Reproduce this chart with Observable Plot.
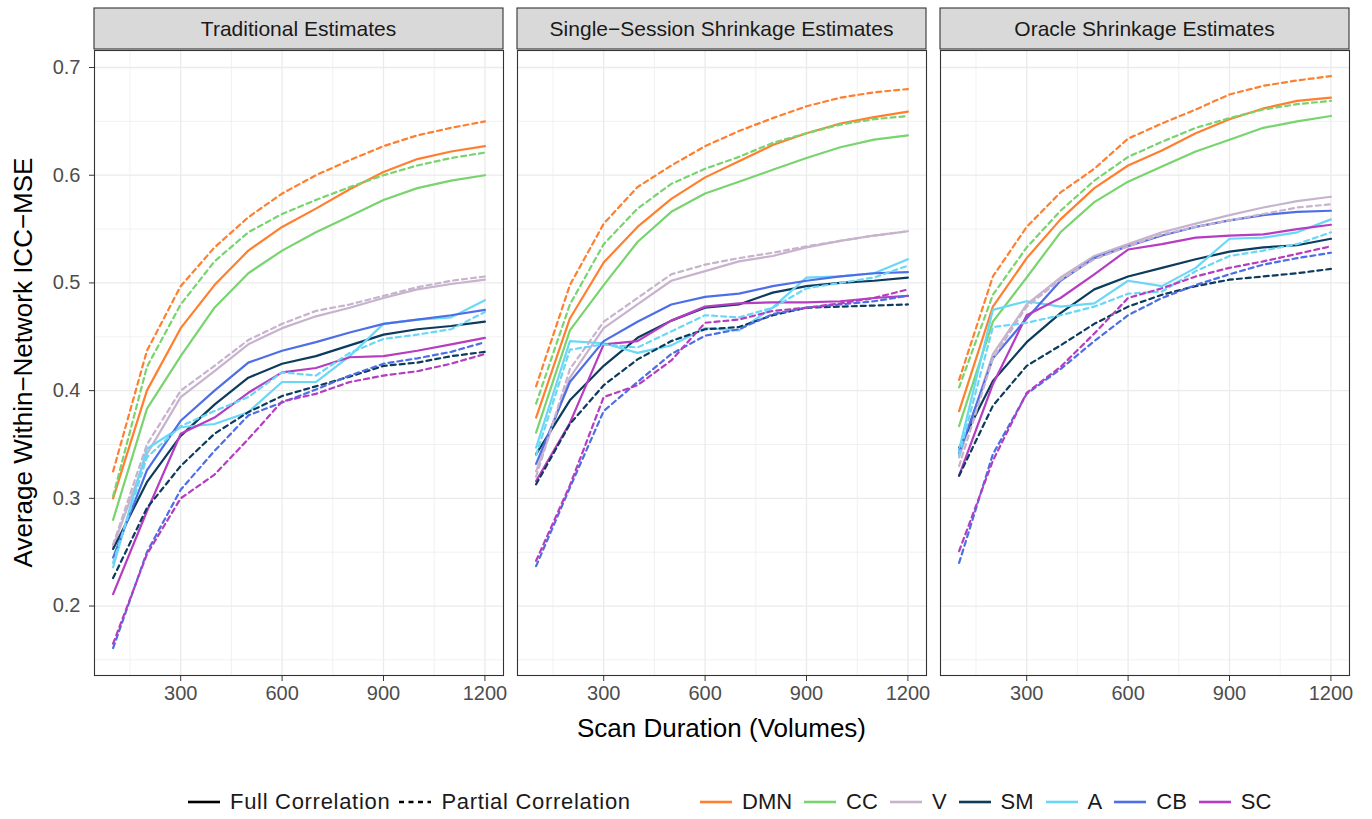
<!DOCTYPE html>
<html>
<head>
<meta charset="utf-8">
<script src="https://cdn.jsdelivr.net/npm/d3@7"></script>
<script src="https://cdn.jsdelivr.net/npm/@observablehq/plot@0.6"></script>
<style>
  html, body { margin: 0; padding: 0; background: #fff; }
  #wrap { position: relative; width: 1372px; height: 819px; font-family: "Liberation Sans", Arial, sans-serif; }
  .leg { position: absolute; top: 789px; display: flex; align-items: center; font-size: 22px; color: #1a1a1a; white-space: nowrap; }
  .leg svg { display: block; }
  .sw { margin-right: 9px; }
  .lab { margin-right: 11px; }
  #legLine .lab { letter-spacing: 0.7px; margin-right: 8px; }
</style>
</head>
<body>
<div id="wrap">
  <div id="chart"></div>
  <div class="leg" id="legLine" style="left:187px"></div>
  <div class="leg" id="legColor" style="left:699px"></div>
</div>
<script>
// ---------- categories, ticks ----------
const durations = [100, 200, 300, 400, 500, 600, 700, 800, 900, 1000, 1100, 1200];
const networks = ["DMN", "CC", "V", "SM", "A", "CB", "SC"];
const netColors = ["#FF7F2E", "#78D46E", "#C7B3CD", "#0C3B5C", "#69D7F6", "#4D6EE6", "#B63CC1"];
const panels = ["Traditional Estimates", "Single\u2212Session Shrinkage Estimates", "Oracle Shrinkage Estimates"];
const corrTypes = ["Full Correlation", "Partial Correlation"];
const xTicks = [300, 600, 900, 1200];
const xMinor = [150, 450, 750, 1050];
const yTicks = [0.2, 0.3, 0.4, 0.5, 0.6, 0.7];
const yMinor = [0.15, 0.25, 0.35, 0.45, 0.55, 0.65];
const xTitle = "Scan Duration (Volumes)";
const yTitle = "Average Within\u2212Network ICC\u2212MSE";

// ---------- Traditional Estimates ----------
const trad_DMN_full = [0.300, 0.400, 0.458, 0.498, 0.530, 0.552, 0.569, 0.587, 0.603, 0.615, 0.622, 0.627];
const trad_DMN_part = [0.325, 0.437, 0.497, 0.533, 0.561, 0.583, 0.600, 0.614, 0.627, 0.637, 0.644, 0.650];
const trad_CC_full  = [0.280, 0.383, 0.432, 0.477, 0.509, 0.530, 0.547, 0.562, 0.577, 0.588, 0.595, 0.600];
const trad_CC_part  = [0.302, 0.422, 0.480, 0.520, 0.547, 0.564, 0.577, 0.589, 0.600, 0.609, 0.616, 0.621];
const trad_V_full   = [0.255, 0.341, 0.394, 0.418, 0.443, 0.458, 0.469, 0.477, 0.486, 0.494, 0.499, 0.503];
const trad_V_part   = [0.257, 0.350, 0.400, 0.423, 0.447, 0.462, 0.474, 0.480, 0.488, 0.496, 0.502, 0.506];
const trad_SM_full  = [0.253, 0.315, 0.358, 0.387, 0.412, 0.425, 0.432, 0.442, 0.452, 0.457, 0.460, 0.464];
const trad_SM_part  = [0.226, 0.291, 0.330, 0.360, 0.380, 0.395, 0.404, 0.413, 0.423, 0.426, 0.432, 0.436];
const trad_A_full   = [0.236, 0.346, 0.366, 0.369, 0.380, 0.408, 0.408, 0.432, 0.462, 0.466, 0.468, 0.484];
const trad_A_part   = [0.240, 0.338, 0.367, 0.381, 0.394, 0.417, 0.414, 0.435, 0.448, 0.452, 0.457, 0.473];
const trad_CB_full  = [0.245, 0.326, 0.372, 0.400, 0.426, 0.437, 0.445, 0.454, 0.462, 0.466, 0.470, 0.475];
const trad_CB_part  = [0.161, 0.250, 0.308, 0.344, 0.377, 0.389, 0.401, 0.414, 0.425, 0.430, 0.436, 0.445];
const trad_SC_full  = [0.211, 0.288, 0.360, 0.375, 0.398, 0.417, 0.421, 0.431, 0.432, 0.437, 0.443, 0.449];
const trad_SC_part  = [0.165, 0.248, 0.300, 0.322, 0.355, 0.390, 0.397, 0.408, 0.414, 0.418, 0.425, 0.434];

// ---------- Single-Session Shrinkage Estimates ----------
const single_DMN_full = [0.375, 0.467, 0.519, 0.552, 0.578, 0.598, 0.613, 0.628, 0.639, 0.648, 0.654, 0.659];
const single_DMN_part = [0.404, 0.498, 0.555, 0.589, 0.609, 0.627, 0.641, 0.653, 0.664, 0.672, 0.677, 0.680];
const single_CC_full  = [0.361, 0.456, 0.498, 0.538, 0.566, 0.583, 0.594, 0.605, 0.616, 0.626, 0.633, 0.637];
const single_CC_part  = [0.388, 0.480, 0.536, 0.569, 0.592, 0.606, 0.617, 0.630, 0.639, 0.647, 0.652, 0.655];
const single_V_full   = [0.325, 0.412, 0.458, 0.480, 0.502, 0.511, 0.520, 0.525, 0.533, 0.539, 0.544, 0.548];
const single_V_part   = [0.320, 0.420, 0.464, 0.486, 0.508, 0.517, 0.523, 0.528, 0.534, 0.539, 0.544, 0.548];
const single_SM_full  = [0.341, 0.391, 0.423, 0.449, 0.465, 0.477, 0.480, 0.491, 0.497, 0.500, 0.502, 0.505];
const single_SM_part  = [0.313, 0.369, 0.405, 0.429, 0.446, 0.457, 0.459, 0.470, 0.477, 0.478, 0.479, 0.480];
const single_A_full   = [0.347, 0.446, 0.444, 0.435, 0.442, 0.458, 0.456, 0.477, 0.505, 0.506, 0.509, 0.522];
const single_A_part   = [0.340, 0.438, 0.443, 0.440, 0.455, 0.470, 0.468, 0.477, 0.495, 0.500, 0.505, 0.516];
const single_CB_full  = [0.332, 0.408, 0.446, 0.464, 0.480, 0.487, 0.490, 0.497, 0.502, 0.506, 0.509, 0.510];
const single_CB_part  = [0.237, 0.310, 0.381, 0.408, 0.434, 0.451, 0.457, 0.471, 0.477, 0.480, 0.483, 0.488];
const single_SC_full  = [0.316, 0.370, 0.443, 0.446, 0.465, 0.478, 0.481, 0.482, 0.482, 0.483, 0.486, 0.488];
const single_SC_part  = [0.242, 0.312, 0.394, 0.405, 0.428, 0.463, 0.466, 0.474, 0.477, 0.481, 0.486, 0.494];

// ---------- Oracle Shrinkage Estimates ----------
const oracle_DMN_full = [0.381, 0.478, 0.523, 0.559, 0.588, 0.609, 0.623, 0.639, 0.652, 0.662, 0.669, 0.672];
const oracle_DMN_part = [0.410, 0.506, 0.552, 0.584, 0.606, 0.634, 0.648, 0.661, 0.675, 0.683, 0.688, 0.692];
const oracle_CC_full  = [0.367, 0.464, 0.505, 0.547, 0.575, 0.594, 0.608, 0.622, 0.633, 0.644, 0.650, 0.655];
const oracle_CC_part  = [0.403, 0.489, 0.533, 0.567, 0.595, 0.617, 0.631, 0.644, 0.653, 0.661, 0.666, 0.669];
const oracle_V_full   = [0.338, 0.434, 0.480, 0.505, 0.525, 0.536, 0.547, 0.555, 0.563, 0.570, 0.576, 0.580];
const oracle_V_part   = [0.330, 0.430, 0.478, 0.503, 0.522, 0.534, 0.545, 0.552, 0.558, 0.564, 0.570, 0.573];
const oracle_SM_full  = [0.347, 0.409, 0.445, 0.472, 0.494, 0.506, 0.514, 0.522, 0.529, 0.533, 0.535, 0.541];
const oracle_SM_part  = [0.321, 0.386, 0.423, 0.442, 0.462, 0.478, 0.489, 0.497, 0.503, 0.506, 0.509, 0.513];
const oracle_A_full   = [0.345, 0.475, 0.483, 0.478, 0.481, 0.502, 0.497, 0.514, 0.541, 0.542, 0.547, 0.559];
const oracle_A_part   = [0.340, 0.459, 0.463, 0.470, 0.478, 0.490, 0.492, 0.511, 0.525, 0.530, 0.536, 0.547];
const oracle_CB_full  = [0.342, 0.430, 0.467, 0.502, 0.523, 0.534, 0.544, 0.552, 0.558, 0.563, 0.566, 0.567];
const oracle_CB_part  = [0.240, 0.341, 0.397, 0.420, 0.446, 0.470, 0.486, 0.498, 0.508, 0.517, 0.523, 0.528];
const oracle_SC_full  = [0.321, 0.406, 0.470, 0.486, 0.508, 0.531, 0.536, 0.542, 0.544, 0.545, 0.550, 0.554];
const oracle_SC_part  = [0.251, 0.335, 0.398, 0.422, 0.453, 0.486, 0.495, 0.506, 0.514, 0.520, 0.527, 0.534];

// ---------- build table ----------
const rows = [];
function add(panel, net, type, vals) {
  vals.forEach((v, i) => rows.push({panel, net, type, x: durations[i], y: v}));
}
const [P0, P1, P2] = panels;
const [F, Pc] = corrTypes;
add(P0, "DMN", F, trad_DMN_full); add(P0, "DMN", Pc, trad_DMN_part);
add(P0, "CC", F, trad_CC_full);   add(P0, "CC", Pc, trad_CC_part);
add(P0, "V", F, trad_V_full);     add(P0, "V", Pc, trad_V_part);
add(P0, "SM", F, trad_SM_full);   add(P0, "SM", Pc, trad_SM_part);
add(P0, "A", F, trad_A_full);     add(P0, "A", Pc, trad_A_part);
add(P0, "CB", F, trad_CB_full);   add(P0, "CB", Pc, trad_CB_part);
add(P0, "SC", F, trad_SC_full);   add(P0, "SC", Pc, trad_SC_part);
add(P1, "DMN", F, single_DMN_full); add(P1, "DMN", Pc, single_DMN_part);
add(P1, "CC", F, single_CC_full);   add(P1, "CC", Pc, single_CC_part);
add(P1, "V", F, single_V_full);     add(P1, "V", Pc, single_V_part);
add(P1, "SM", F, single_SM_full);   add(P1, "SM", Pc, single_SM_part);
add(P1, "A", F, single_A_full);     add(P1, "A", Pc, single_A_part);
add(P1, "CB", F, single_CB_full);   add(P1, "CB", Pc, single_CB_part);
add(P1, "SC", F, single_SC_full);   add(P1, "SC", Pc, single_SC_part);
add(P2, "DMN", F, oracle_DMN_full); add(P2, "DMN", Pc, oracle_DMN_part);
add(P2, "CC", F, oracle_CC_full);   add(P2, "CC", Pc, oracle_CC_part);
add(P2, "V", F, oracle_V_full);     add(P2, "V", Pc, oracle_V_part);
add(P2, "SM", F, oracle_SM_full);   add(P2, "SM", Pc, oracle_SM_part);
add(P2, "A", F, oracle_A_full);     add(P2, "A", Pc, oracle_A_part);
add(P2, "CB", F, oracle_CB_full);   add(P2, "CB", Pc, oracle_CB_part);
add(P2, "SC", F, oracle_SC_full);   add(P2, "SC", Pc, oracle_SC_part);

const DASH = "5,4";
const gridColor = "#ebebeb";
const FONT = "'Liberation Sans', Arial, sans-serif";

const plot = Plot.plot({
  width: 1372,
  height: 750,
  marginTop: 50,
  marginBottom: 75,
  marginLeft: 93,
  marginRight: 21,
  style: {fontFamily: FONT, fontSize: "20px", background: "#fff"},
  fx: {domain: panels, paddingInner: 0.033, paddingOuter: 0, axis: null, label: null},
  x: {domain: [45, 1255], label: null},
  y: {domain: [0.1355, 0.7158], label: null},
  color: {domain: networks, range: netColors},
  marks: [
    Plot.gridX(xMinor, {stroke: gridColor, strokeOpacity: 1, strokeWidth: 0.7}),
    Plot.gridY(yMinor, {stroke: gridColor, strokeOpacity: 1, strokeWidth: 0.7}),
    Plot.gridX(xTicks, {stroke: gridColor, strokeOpacity: 1, strokeWidth: 1.3}),
    Plot.gridY(yTicks, {stroke: gridColor, strokeOpacity: 1, strokeWidth: 1.3}),
    Plot.line(rows.filter(d => d.type === F), {fx: "panel", x: "x", y: "y", z: d => d.net, stroke: "net", strokeWidth: 2.2}),
    Plot.line(rows.filter(d => d.type === Pc), {fx: "panel", x: "x", y: "y", z: d => d.net, stroke: "net", strokeWidth: 2.2, strokeDasharray: DASH}),
    Plot.frame({stroke: "#333", strokeWidth: 1.1}),
    Plot.axisX(xTicks, {anchor: "bottom", tickSize: 6, tickPadding: 4, stroke: "#333", fill: "#4d4d4d", fontSize: 20, tickFormat: d3.format("d"), label: null}),
    Plot.axisY(yTicks, {anchor: "left", tickSize: 5, tickPadding: 9, stroke: "#333", fill: "#4d4d4d", fontSize: 20, tickFormat: d3.format(".1f"), label: null})
  ]
});

document.getElementById("chart").appendChild(plot);

// ---------- strips & axis titles, placed with the plot's own scales ----------
const svg = d3.select(plot);
const fx = plot.scale("fx");
const ys = plot.scale("y");
const panelTop = Math.min(...ys.range);
const panelBottom = Math.max(...ys.range);
panels.forEach(p => {
  const x0 = fx.apply(p);
  const g = svg.append("g");
  g.append("rect")
    .attr("x", x0).attr("y", panelTop - 42)
    .attr("width", fx.bandwidth).attr("height", 41)
    .attr("fill", "#d9d9d9").attr("stroke", "#333").attr("stroke-width", 1.1);
  g.append("text")
    .attr("x", x0 + fx.bandwidth / 2).attr("y", panelTop - 21.5)
    .attr("text-anchor", "middle").attr("dominant-baseline", "central")
    .attr("font-size", 21).attr("fill", "#1a1a1a")
    .attr("font-family", FONT)
    .text(p);
});
const leftEdge = fx.apply(panels[0]);
const rightEdge = fx.apply(panels[2]) + fx.bandwidth;
svg.append("text")
  .attr("x", (leftEdge + rightEdge) / 2).attr("y", panelBottom + 53)
  .attr("text-anchor", "middle").attr("dominant-baseline", "central")
  .attr("font-size", 26).attr("fill", "#000")
  .attr("font-family", FONT)
  .text(xTitle);
svg.append("text")
  .attr("transform", `translate(23,${(panelTop + panelBottom) / 2}) rotate(-90)`)
  .attr("text-anchor", "middle").attr("dominant-baseline", "central")
  .attr("font-size", 26).attr("fill", "#000")
  .attr("font-family", FONT)
  .text(yTitle);

// ---------- legends (HTML, below the SVG) ----------
function swatch(color, dash) {
  const ns = "http://www.w3.org/2000/svg";
  const s = document.createElementNS(ns, "svg");
  s.setAttribute("width", 34); s.setAttribute("height", 20); s.setAttribute("class", "sw");
  const l = document.createElementNS(ns, "line");
  l.setAttribute("x1", 1); l.setAttribute("x2", 33); l.setAttribute("y1", 10); l.setAttribute("y2", 10);
  l.setAttribute("stroke", color); l.setAttribute("stroke-width", 2.6);
  if (dash) l.setAttribute("stroke-dasharray", dash);
  s.appendChild(l);
  return s;
}
function label(t) {
  const sp = document.createElement("span");
  sp.className = "lab"; sp.textContent = t;
  return sp;
}
const legLine = document.getElementById("legLine");
corrTypes.forEach((t, i) => { legLine.appendChild(swatch("#000", i === 0 ? null : "5,4.5")); legLine.appendChild(label(t)); });
const legColor = document.getElementById("legColor");
networks.forEach((n, i) => { legColor.appendChild(swatch(netColors[i], null)); legColor.appendChild(label(n)); });
</script>
</body>
</html>
